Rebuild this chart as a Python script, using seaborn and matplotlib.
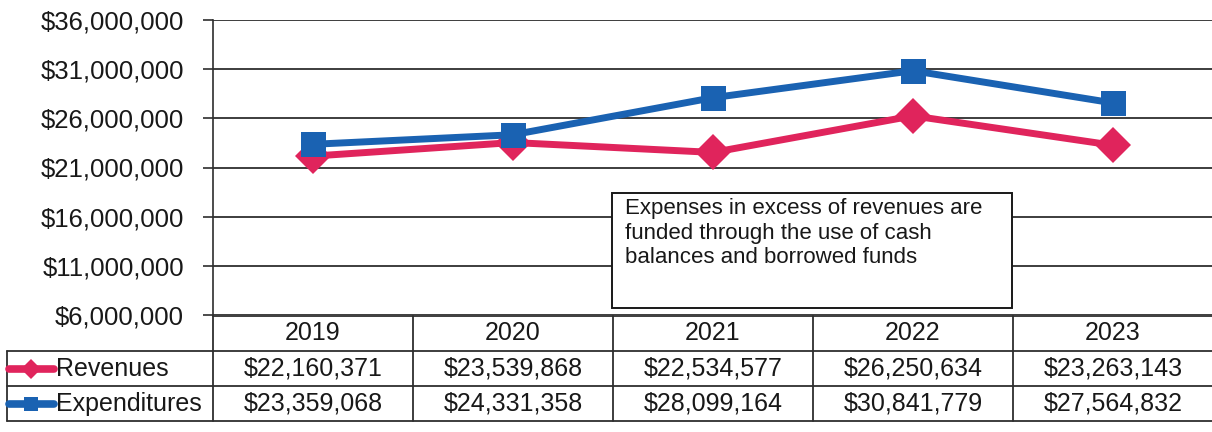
import matplotlib
matplotlib.use("Agg")
import matplotlib.pyplot as plt
from matplotlib.patches import Rectangle
from matplotlib.ticker import FuncFormatter
import pandas as pd
import seaborn as sns

# ---- data -------------------------------------------------------------
years = ["2019", "2020", "2021", "2022", "2023"]
revenues = [22160371, 23539868, 22534577, 26250634, 23263143]
expenditures = [23359068, 24331358, 28099164, 30841779, 27564832]
series_names = ["Revenues", "Expenditures"]
y_ticks = [6000000, 11000000, 16000000, 21000000, 26000000, 31000000, 36000000]
note_text = ("Expenses in excess of revenues are\n"
             "funded through the use of cash\n"
             "balances and borrowed funds")

# ---- style ------------------------------------------------------------
sns.set_theme(style="white")
plt.rcParams["font.family"] = ["Liberation Sans", "DejaVu Sans"]

PINK = "#E0245C"
BLUE = "#1A62B2"
INK = "#181818"
GRID = "#2e2e2e"
palette = {"Revenues": PINK, "Expenditures": BLUE}
markers = {"Revenues": "D", "Expenditures": "s"}

df = pd.DataFrame({
    "year": years * 2,
    "value": revenues + expenditures,
    "series": ["Revenues"] * len(years) + ["Expenditures"] * len(years),
})

W, H = 1212, 432
fig = plt.figure(figsize=(W / 100, H / 100), dpi=100)
fig.patch.set_facecolor("white")

# chart area
ax = fig.add_axes([213 / W, 1 - 315 / H, 1000 / W, 295 / H])
sns.lineplot(data=df, x="year", y="value", hue="series", style="series",
             hue_order=series_names, style_order=series_names,
             palette=palette, markers=markers, dashes=False,
             linewidth=5, markersize=18, markeredgewidth=0,
             legend=False, ax=ax, zorder=3)

ax.set_xlim(-0.5, len(years) - 0.5)
ax.set_ylim(y_ticks[0], y_ticks[-1])
ax.set_yticks(y_ticks)
ax.yaxis.set_major_formatter(FuncFormatter(lambda v, _: f"${v:,.0f}"))
ax.set_xticks([])
ax.set_xlabel("")
ax.set_ylabel("")
ax.tick_params(axis="y", which="major", direction="out", length=7, width=1.2,
               color=GRID, pad=14, labelsize=18.5, labelcolor=INK, left=True)
ax.grid(axis="y", color=GRID, linewidth=1.3)
ax.grid(axis="x", visible=False)
for side in ("top", "right", "bottom"):
    ax.spines[side].set_visible(False)
ax.spines["left"].set_color(GRID)
ax.spines["left"].set_linewidth(1.2)

# note box
ax.add_patch(Rectangle((0.399, 0.024), 0.40, 0.39, transform=ax.transAxes,
                       facecolor="white", edgecolor=INK, linewidth=1.4,
                       zorder=4))
ax.text(0.412, 0.395, note_text, transform=ax.transAxes, ha="left", va="top",
        fontsize=16, color=INK, linespacing=1.2, zorder=5)

# ---- data table under the chart -----------------------------------------
tax = fig.add_axes([213 / W, 1 - 421 / H, 1000 / W, 105 / H])
tax.set_xlim(-0.5, len(years) - 0.5)
tax.set_ylim(0, 3)
tax.axis("off")

lw = 1.3
left_edge = -1.53
right_edge = len(years) - 0.5
# horizontal rules
tax.plot([-0.5, right_edge], [3, 3], color=GRID, lw=lw, clip_on=False)
for yv in (2, 1, 0):
    tax.plot([left_edge, right_edge], [yv, yv], color=GRID, lw=lw, clip_on=False)
# vertical rules
tax.plot([left_edge, left_edge], [0, 2], color=GRID, lw=lw, clip_on=False)
for i in range(len(years)):
    tax.plot([i - 0.5, i - 0.5], [0, 3], color=GRID, lw=lw, clip_on=False)

for i, yr in enumerate(years):
    tax.text(i, 2.5, yr, ha="center", va="center", fontsize=18, color=INK)
    tax.text(i, 1.5, f"${revenues[i]:,}", ha="center", va="center",
             fontsize=18, color=INK)
    tax.text(i, 0.5, f"${expenditures[i]:,}", ha="center", va="center",
             fontsize=18, color=INK)

# legend keys inside the row headers
for row_y, name in ((1.5, "Revenues"), (0.5, "Expenditures")):
    tax.plot([-1.52, -1.295], [row_y, row_y], color=palette[name], lw=5.5,
             clip_on=False, solid_capstyle="round")
    tax.plot([-1.41], [row_y], marker=markers[name], color=palette[name],
             markersize=10, markeredgewidth=0, clip_on=False)
    tax.text(-1.285, row_y, name, ha="left", va="center", fontsize=18,
             color=INK)

fig.savefig("out.png", dpi=100, facecolor="white")
